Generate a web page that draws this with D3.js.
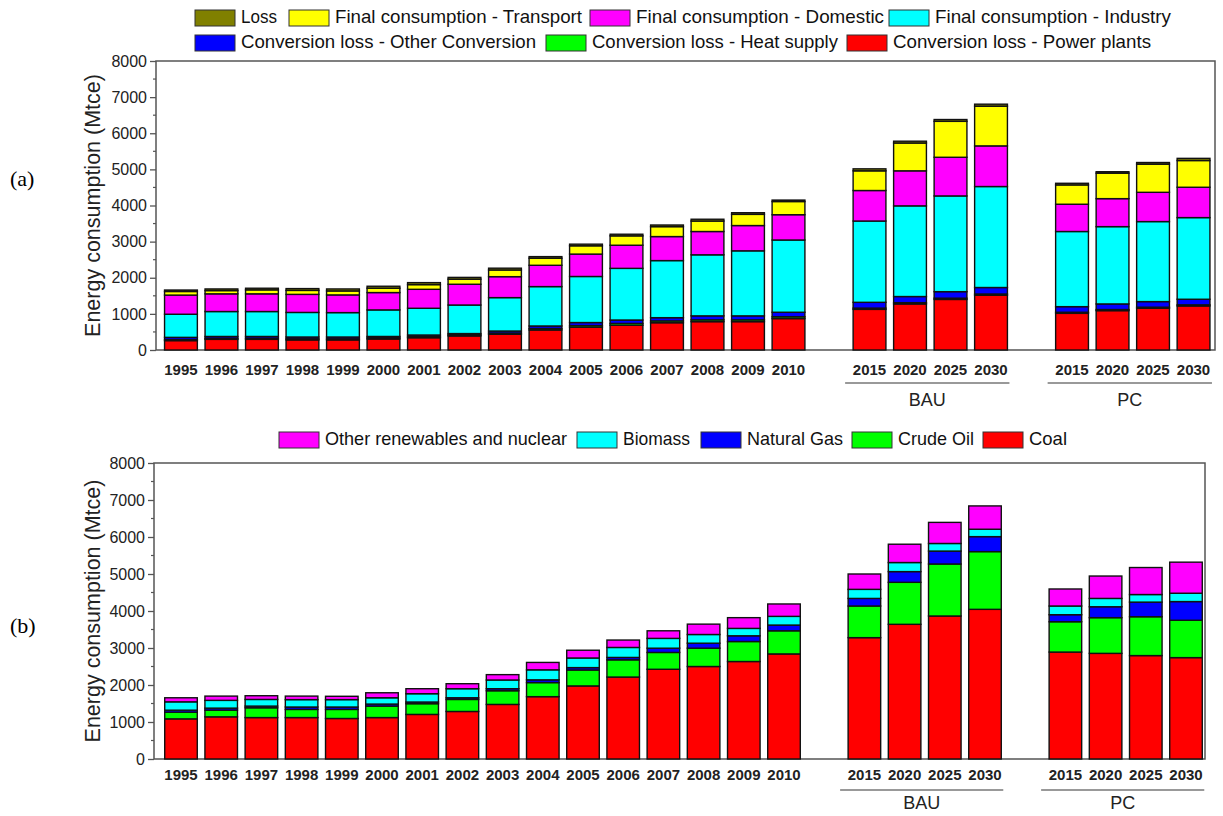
<!DOCTYPE html>
<html>
<head>
<meta charset="utf-8">
<script src="https://cdn.jsdelivr.net/npm/d3@7"></script>
<style>
  html, body { margin: 0; padding: 0; background: #fff; }
  svg { display: block; font-family: "Liberation Sans", Arial, sans-serif; }
</style>
</head>
<body>
<svg id="chart" width="1223" height="816"></svg>
<script>
// ---------------- DATA ----------------
const histYears = ["1995","1996","1997","1998","1999","2000","2001","2002","2003","2004","2005","2006","2007","2008","2009","2010"];
const bauYears = ["BAU 2015","BAU 2020","BAU 2025","BAU 2030"];
const pcYears = ["PC 2015","PC 2020","PC 2025","PC 2030"];
const categories = histYears.concat(bauYears, pcYears);
const slotDomain = histYears.concat(["gap1"], bauYears, ["gap2"], pcYears);
const groupLabels = ["BAU", "PC"];
const yTickValues = [0,1000,2000,3000,4000,5000,6000,7000,8000];

// (a) by use, Mtce
const aPowerPlants   = [260,295,295,280,280,305,340,390,435,555,630,685,755,785,785,870, 1125,1275,1400,1515, 1015,1090,1155,1220];
const aHeatSupply    = [30,30,30,30,30,30,30,30,35,40,45,50,50,50,50,50, 35,35,35,35, 30,30,30,30];
const aOtherConv     = [60,50,50,50,50,40,45,35,55,70,85,95,90,110,110,125, 160,170,180,180, 155,155,155,155];
const aIndustry      = [640,690,690,680,675,735,740,790,925,1090,1275,1430,1580,1690,1800,2000, 2250,2510,2650,2795, 2080,2140,2215,2260];
const aDomestic      = [530,490,490,500,490,480,525,575,580,590,620,640,665,645,700,700, 845,970,1070,1125, 755,775,810,840];
const aTransport     = [100,90,110,110,110,120,130,140,185,195,230,260,275,290,310,365, 545,770,995,1100, 535,705,780,740];
const aLoss          = [40,45,45,50,55,55,55,50,50,45,45,45,45,50,45,40, 55,50,50,55, 45,40,45,60];

// (b) by source, Mtce
const bCoal          = [1085,1140,1120,1120,1095,1120,1205,1285,1475,1685,1975,2215,2425,2500,2635,2840, 3280,3640,3865,4045, 2890,2855,2795,2740];
const bCrudeOil      = [180,180,265,220,245,310,290,325,370,380,430,465,455,495,540,625, 855,1135,1405,1560, 820,965,1050,1010];
const bNaturalGas    = [55,55,45,65,65,55,45,45,55,75,65,65,115,135,155,155, 205,290,350,405, 190,295,395,505];
const bBiomass       = [225,210,180,200,200,170,225,245,235,270,260,270,265,235,200,235, 245,245,205,200, 235,225,205,225];
const bOther         = [110,115,100,95,90,135,135,135,145,200,210,200,205,280,290,335, 415,495,570,630, 460,605,730,840];

const aSeries = [
  {key:"Conversion loss - Power plants", values:aPowerPlants, color:"#ff0000"},
  {key:"Conversion loss - Heat supply", values:aHeatSupply, color:"#00ff00"},
  {key:"Conversion loss - Other Conversion", values:aOtherConv, color:"#0000ff"},
  {key:"Final consumption - Industry", values:aIndustry, color:"#00ffff"},
  {key:"Final consumption - Domestic", values:aDomestic, color:"#ff00ff"},
  {key:"Final consumption - Transport", values:aTransport, color:"#ffff00"},
  {key:"Loss", values:aLoss, color:"#808000"}
];
const bSeries = [
  {key:"Coal", values:bCoal, color:"#ff0000"},
  {key:"Crude Oil", values:bCrudeOil, color:"#00ff00"},
  {key:"Natural Gas", values:bNaturalGas, color:"#0000ff"},
  {key:"Biomass", values:bBiomass, color:"#00ffff"},
  {key:"Other renewables and nuclear", values:bOther, color:"#ff00ff"}
];

// legend layout: [name, swatch x, text width]
const aLegendRows = [
  [["Loss",195,36],["Final consumption - Transport",289,247],["Final consumption - Domestic",590,248],["Final consumption - Industry",889,236]],
  [["Conversion loss - Other Conversion",195,295],["Conversion loss - Heat supply",546,246],["Conversion loss - Power plants",847,258]]
];
const bLegendRows = [
  [["Other renewables and nuclear",279,242],["Biomass",577,67],["Natural Gas",701,96],["Crude Oil",852,76],["Coal",983,38]]
];

const svg = d3.select("#chart");

function drawPanel(cfg) {
  const g = svg.append("g");
  const x = d3.scaleBand().domain(slotDomain).range([cfg.bx0, cfg.bx1]).paddingInner(0.19).paddingOuter(0.1);
  const y = d3.scaleLinear().domain([0, 8000]).range([cfg.yBottom, cfg.yTop]);

  const rows = categories.map((c, i) => {
    const o = {cat: c};
    cfg.series.forEach(s => o[s.key] = s.values[i]);
    return o;
  });
  const stack = d3.stack().keys(cfg.series.map(s => s.key))(rows);
  const colorOf = {};
  cfg.series.forEach(s => colorOf[s.key] = s.color);

  // frame
  g.append("rect").attr("x", cfg.fx0).attr("y", cfg.yTop).attr("width", cfg.fx1 - cfg.fx0).attr("height", cfg.yBottom - cfg.yTop)
    .attr("fill", "none").attr("stroke", "#555").attr("stroke-width", 1.5);

  // bars
  stack.forEach(layer => {
    g.append("g").selectAll("rect").data(layer).join("rect")
      .attr("x", d => x(d.data.cat))
      .attr("width", x.bandwidth())
      .attr("y", d => y(d[1]))
      .attr("height", d => y(d[0]) - y(d[1]))
      .attr("fill", colorOf[layer.key])
      .attr("stroke", "#111")
      .attr("stroke-width", 1.4);
  });

  // y axis
  const yAxis = d3.axisLeft(y).tickValues(yTickValues).tickSize(6).tickPadding(3).tickFormat(d3.format("d"));
  const ya = g.append("g").attr("transform", `translate(${cfg.fx0},0)`).call(yAxis);
  ya.select(".domain").remove();
  ya.selectAll("line").attr("stroke", "#555").attr("stroke-width", 1.3);
  ya.selectAll("text").attr("font-size", 16).attr("fill", "#222").attr("font-family", "'Liberation Sans', Arial, sans-serif");
  const minor = d3.range(500, 8000, 1000);
  g.append("g").selectAll("line").data(minor).join("line")
    .attr("x1", cfg.fx0 - 3).attr("x2", cfg.fx0).attr("y1", d => y(d)).attr("y2", d => y(d))
    .attr("stroke", "#555").attr("stroke-width", 1.2);

  // x labels
  g.append("g").selectAll("text").data(categories).join("text")
    .attr("x", d => x(d) + x.bandwidth() / 2)
    .attr("y", cfg.labelY)
    .attr("text-anchor", "middle")
    .attr("dominant-baseline", "middle")
    .attr("font-size", 15).attr("font-weight", "bold").attr("fill", "#222")
    .text(d => d.slice(-4));

  // group brackets
  const groups = [bauYears, pcYears];
  groups.forEach((grp, gi) => {
    const gx0 = x(grp[0]) - 8, gx1 = x(grp[grp.length - 1]) + x.bandwidth() + 2;
    g.append("line").attr("x1", gx0).attr("x2", gx1).attr("y1", cfg.bracketY).attr("y2", cfg.bracketY)
      .attr("stroke", "#999").attr("stroke-width", 2);
    g.append("text").attr("x", (gx0 + gx1) / 2).attr("y", cfg.groupLabelY)
      .attr("text-anchor", "middle").attr("dominant-baseline", "middle")
      .attr("font-size", 18).attr("fill", "#222").text(groupLabels[gi]);
  });

  // y title
  g.append("text")
    .attr("transform", `translate(${cfg.titleX},${(cfg.yTop + cfg.yBottom) / 2}) rotate(-90)`)
    .attr("text-anchor", "middle").attr("dominant-baseline", "middle")
    .attr("font-size", 21.5).attr("fill", "#222").text("Energy consumption (Mtce)");

  // panel label
  g.append("text").attr("x", 10).attr("y", cfg.panelLabelY)
    .attr("dominant-baseline", "middle")
    .attr("font-family", "'Liberation Serif', 'Times New Roman', serif")
    .attr("font-size", 22).attr("fill", "#000").text(cfg.panelLabel);

  // legend
  const lseries = {};
  cfg.series.forEach(s => lseries[s.key] = s.color);
  cfg.legendRows.forEach((row, ri) => {
    const ly = cfg.legendY[ri];
    row.forEach(([name, lx, tw]) => {
      g.append("rect").attr("x", lx).attr("y", ly - 8).attr("width", 40).attr("height", 16)
        .attr("fill", lseries[name]).attr("stroke", "#333").attr("stroke-width", 1);
      g.append("text").attr("x", lx + 46).attr("y", ly).attr("dominant-baseline", "middle")
        .attr("font-size", 18.5).attr("fill", "#111")
        .attr("textLength", tw).attr("lengthAdjust", "spacingAndGlyphs")
        .text(name);
    });
  });
}

drawPanel({
  series: aSeries, legendRows: aLegendRows, legendY: [18, 43],
  bx0: 160.5, bx1: 1214, fx0: 156, fx1: 1215, yTop: 61, yBottom: 350,
  labelY: 371, bracketY: 383, groupLabelY: 401, titleX: 94, panelLabel: "(a)", panelLabelY: 181
});
drawPanel({
  series: bSeries, legendRows: bLegendRows, legendY: [440],
  bx0: 160.7, bx1: 1206.3, fx0: 154, fx1: 1205, yTop: 463, yBottom: 759,
  labelY: 776, bracketY: 790, groupLabelY: 804, titleX: 94, panelLabel: "(b)", panelLabelY: 628
});
</script>
</body>
</html>
